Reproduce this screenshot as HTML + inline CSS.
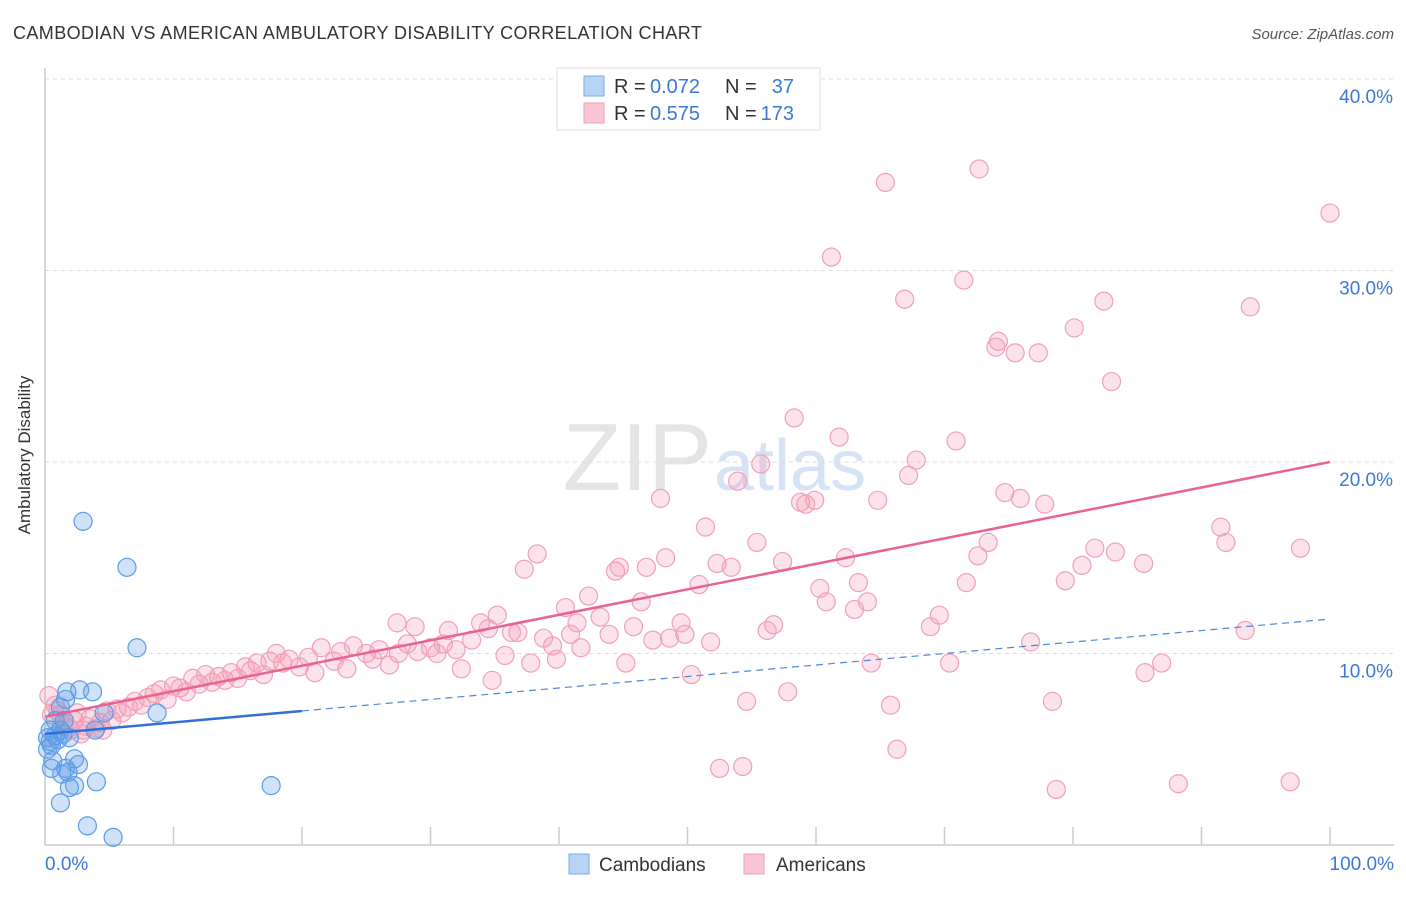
<!DOCTYPE html>
<html><head><meta charset="utf-8"><style>
body{margin:0;background:#fff;font-family:"Liberation Sans",sans-serif;}
svg text{font-family:"Liberation Sans",sans-serif;}
</style></head><body>
<svg id="c" width="1406" height="892" xmlns="http://www.w3.org/2000/svg">
<text x="13" y="39" font-size="18" fill="#333" letter-spacing="0.4">CAMBODIAN VS AMERICAN AMBULATORY DISABILITY CORRELATION CHART</text>
<text x="1394" y="39" font-size="15" fill="#555" font-style="italic" text-anchor="end">Source: ZipAtlas.com</text>
<text x="712" y="490" font-size="96" fill="#e4e4e4" text-anchor="end" font-family="Liberation Serif">ZIP</text>
<text x="714" y="490" font-size="72" fill="#d5e3f5">atlas</text>
<g id="grid"></g><g id="axes"></g><g id="pts"></g><g id="lines"></g>
<text x="30" y="455" font-size="17" fill="#333" text-anchor="middle" transform="rotate(-90 30 455)">Ambulatory Disability</text>
<g>
<rect x="557" y="68" width="263" height="62" fill="#fff" stroke="#ddd"/>
<rect x="584" y="76" width="20" height="20" fill="#b8d4f5" stroke="#7aaae8"/>
<rect x="584" y="103" width="20" height="20" fill="#f9c4d4" stroke="#f0a0b8"/>
<text x="614" y="93" font-size="20" fill="#333">R =</text>
<text x="650" y="93" font-size="20" fill="#3a78d8">0.072</text>
<text x="725" y="93" font-size="20" fill="#333">N =</text>
<text x="794" y="93" font-size="20" fill="#3a78d8" text-anchor="end">37</text>
<text x="614" y="120" font-size="20" fill="#333">R =</text>
<text x="650" y="120" font-size="20" fill="#3a78d8">0.575</text>
<text x="725" y="120" font-size="20" fill="#333">N =</text>
<text x="794" y="120" font-size="20" fill="#3a78d8" text-anchor="end">173</text>
</g>
<g>
<rect x="569" y="854" width="20" height="20" fill="#b8d4f5" stroke="#7aaae8"/>
<text x="599" y="871" font-size="19" fill="#333">Cambodians</text>
<rect x="744" y="854" width="20" height="20" fill="#f9c4d4" stroke="#f0a0b8"/>
<text x="776" y="871" font-size="19" fill="#333">Americans</text>
</g>
</svg>
<script>
const yTicks=[10,20,30,40];
const xTickLabels=["0.0%","100.0%"];
const blueX=[2.96,6.38,7.16,8.72,17.6,3.7,2.7,1.7,1.6,1.2,0.8,0.4,0.2,0.5,1.0,0.8,1.4,1.9,2.3,1.6,1.3,1.8,2.3,1.9,1.2,4.0,3.3,5.3,0.2,0.6,2.6,1.2,1.5,4.6,3.9,0.4,0.5];
const blueY=[16.9,14.5,10.3,6.9,3.1,8.0,8.1,8.0,7.6,7.2,6.5,6.0,5.6,5.2,5.5,5.7,5.8,5.6,4.5,4.0,3.7,3.8,3.1,3.0,2.2,3.3,1.0,0.4,5.0,4.4,4.2,6.0,6.5,6.9,6.0,5.4,4.0];
const pinkX=[65.4,72.7,100,61.2,71.5,66.9,82.4,93.8,80.1,74.2,74.0,75.5,77.3,83.0,58.3,61.8,70.9,55.7,67.8,67.2,53.9,74.7,75.9,77.8,47.9,58.8,59.9,59.2,64.8,51.4,91.5,91.9,97.7,73.4,72.6,81.7,83.3,85.5,80.7,79.4,38.3,37.3,48.3,46.8,44.4,44.7,52.3,53.4,55.4,57.4,62.3,63.3,60.3,60.8,64.0,63.0,71.7,69.6,68.9,50.9,46.4,42.3,40.5,41.4,43.2,45.8,43.9,35.2,33.9,34.5,36.3,36.8,38.8,40.9,39.5,41.7,33.2,31.4,28.8,27.4,49.5,49.8,48.6,47.3,51.8,56.7,56.2,93.4,76.7,86.9,85.6,70.4,64.3,45.2,50.3,37.8,39.8,35.8,34.8,32.4,54.6,57.8,65.8,78.4,66.3,52.5,54.3,78.7,88.2,96.9,
0.3,0.8,1.2,1.5,2.0,2.3,2.8,3.2,3.5,4.0,4.3,4.8,5.2,5.6,6.0,6.5,7.0,7.5,8.0,8.5,9.0,9.5,10.0,10.5,11.0,11.5,12.0,12.5,13.0,13.5,14.0,14.5,15.0,15.6,16.0,16.5,17.0,17.5,18.0,18.5,19.0,19.8,20.5,21.0,21.5,22.5,23.0,23.5,24.0,25.0,25.5,26.0,26.8,27.5,28.2,29.0,30.0,30.5,31.0,32.0,2.5,1.8,3.0,4.5,0.5,1.0];
const pinkY=[34.6,35.3,33.0,30.7,29.5,28.5,28.4,28.1,27.0,26.3,26.0,25.7,25.7,24.2,22.3,21.3,21.1,19.9,20.1,19.3,19.0,18.4,18.1,17.8,18.1,17.9,18.0,17.8,18.0,16.6,16.6,15.8,15.5,15.8,15.1,15.5,15.3,14.7,14.6,13.8,15.2,14.4,15.0,14.5,14.3,14.5,14.7,14.5,15.8,14.8,15.0,13.7,13.4,12.7,12.7,12.3,13.7,12.0,11.4,13.6,12.7,13.0,12.4,11.6,11.9,11.4,11.0,12.0,11.6,11.3,11.1,11.1,10.8,11.0,10.4,10.3,10.7,11.2,11.4,11.6,11.6,11.0,10.8,10.7,10.6,11.5,11.2,11.2,10.6,9.5,9.0,9.5,9.5,9.5,8.9,9.5,9.7,9.9,8.6,9.2,7.5,8.0,7.3,7.5,5.0,4.0,4.1,2.9,3.2,3.3,
7.8,7.3,6.8,6.3,6.0,6.5,5.8,6.2,6.6,6.1,6.4,7.0,6.5,7.1,6.9,7.2,7.5,7.3,7.7,7.9,8.1,7.6,8.3,8.2,8.0,8.7,8.4,8.9,8.5,8.8,8.6,9.0,8.7,9.3,9.1,9.5,8.9,9.6,10.0,9.5,9.7,9.3,9.8,9.0,10.3,9.6,10.1,9.2,10.4,10.0,9.7,10.2,9.4,10.0,10.5,10.1,10.3,10.0,10.5,10.2,6.9,6.1,6.0,6.0,6.8,7.0];
const blueFit=[5.8,0.6];
const pinkFit=[6.7,1.33];
const X0=45,X1=1330,Y0=845,PY=19.15;
const sx=v=>X0+(X1-X0)*v/100, sy=v=>Y0-PY*v;
const NS="http://www.w3.org/2000/svg";
function mk(tag,at,parent){const e=document.createElementNS(NS,tag);for(const k in at)e.setAttribute(k,at[k]);document.getElementById(parent).appendChild(e);return e;}
yTicks.forEach(t=>{
 const l=mk('line',{x1:X0,x2:1394,y1:sy(t),y2:sy(t),stroke:'#ddd','stroke-dasharray':'4 4'},'grid');
 
 
 const tx=mk('text',{x:1393,y:sy(t)+24,'font-size':19,fill:'#3a78d8','text-anchor':'end'},'grid');
 tx.textContent=t.toFixed(1)+'%';
 
 
});
const ax=mk('line',{x1:X0,x2:1394,y1:Y0,y2:Y0,stroke:'#ccc','stroke-width':1.5},'axes');


const ay=mk('line',{x1:X0,x2:X0,y1:68,y2:Y0,stroke:'#ccc','stroke-width':1.5},'axes');


for(let i=1;i<=10;i++){const t=mk('line',{x1:sx(i*10),x2:sx(i*10),y1:Y0-18,y2:Y0,stroke:'#ccc','stroke-width':1.5},'axes');
 
 }
[[0,'start',45],[100,'end',1394]].forEach((d,i)=>{const t=mk('text',{x:d[2],y:870,'font-size':19,fill:'#3a78d8','text-anchor':d[1]},'axes');t.textContent=xTickLabels[i];
 
 });
pinkX.forEach((x,i)=>{const c=mk('circle',{cx:sx(x),cy:sy(pinkY[i]),r:9,fill:'rgba(245,160,185,0.3)',stroke:'#f0a0b8','stroke-width':1.2},'pts');
 
 });
blueX.forEach((x,i)=>{const c=mk('circle',{cx:sx(x),cy:sy(blueY[i]),r:9,fill:'rgba(100,160,230,0.3)',stroke:'#5b9be8','stroke-width':1.2},'pts');
 
 });
const bf=x=>blueFit[0]+blueFit[1]*x/10, pf=x=>pinkFit[0]+pinkFit[1]*x/10;
const l1=mk('line',{x1:sx(0),y1:sy(bf(0)),x2:sx(20),y2:sy(bf(20)),stroke:'#2f6fd6','stroke-width':2.5},'lines');


const l2=mk('line',{x1:sx(20),y1:sy(bf(20)),x2:sx(100),y2:sy(bf(100)),stroke:'#4a86dc','stroke-width':1.2,'stroke-dasharray':'7 5'},'lines');


const l3=mk('line',{x1:sx(0),y1:sy(pf(0)),x2:sx(100),y2:sy(pf(100)),stroke:'#e8648e','stroke-width':2.5},'lines');


</script>
</body></html>
